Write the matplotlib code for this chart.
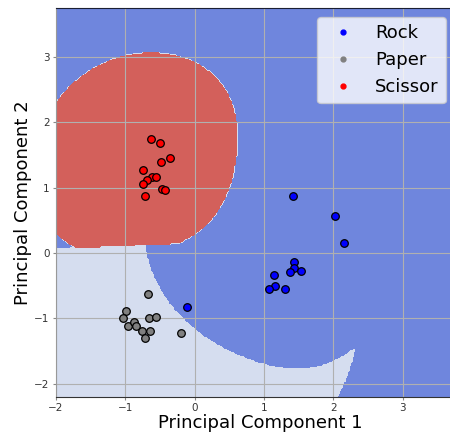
import numpy as np
import matplotlib
matplotlib.use("Agg")
import matplotlib.pyplot as plt
from matplotlib.lines import Line2D

# PCA scores for the three gestures
rock_x = [2.03, 2.16, 1.42, 1.43, 1.43, 1.38, 1.535, 1.15, 1.165, 1.07, 1.30, -0.115]
rock_y = [0.56, 0.15, 0.88, -0.14, -0.235, -0.29, -0.27, -0.34, -0.50, -0.55, -0.55, -0.82]
paper_x = [-0.67, -0.99, -1.03, -0.96, -0.87, -0.85, -0.66, -0.56, -0.76, -0.64, -0.71, -0.19]
paper_y = [-0.63, -0.89, -0.99, -1.11, -1.05, -1.11, -0.99, -0.98, -1.20, -1.20, -1.30, -1.23]
scissor_x = [-0.635, -0.505, -0.36, -0.49, -0.75, -0.615, -0.56, -0.68, -0.75, -0.475, -0.43, -0.71]
scissor_y = [1.75, 1.69, 1.45, 1.40, 1.27, 1.16, 1.16, 1.11, 1.06, 0.98, 0.97, 0.87]

labels = ["Rock", "Paper", "Scissor"]
point_colors = ["blue", "gray", "red"]
region_colors = ["#6f86dd", "#d5ddef", "#d3605b"]


def rbf(A, B, gamma):
    d2 = ((A[:, None, :] - B[None, :, :]) ** 2).sum(-1)
    return np.exp(-gamma * d2)


def fit_binary(X, y, gamma, C=1.0, tol=1e-3, max_iter=200000):
    # SMO with maximal violating pair, like libsvm
    n = len(y)
    K = rbf(X, X, gamma)
    a = np.zeros(n)
    G = -np.ones(n)
    for _ in range(max_iter):
        v = -y * G
        up = ((y > 0) & (a < C)) | ((y < 0) & (a > 0))
        low = ((y > 0) & (a > 0)) | ((y < 0) & (a < C))
        i = np.where(up)[0][np.argmax(v[up])]
        j = np.where(low)[0][np.argmin(v[low])]
        if v[i] - v[j] < tol:
            break
        quad = max(K[i, i] + K[j, j] - 2 * K[i, j], 1e-12)
        t = (v[i] - v[j]) / quad
        t = min(t, C - a[i] if y[i] > 0 else a[i], a[j] if y[j] > 0 else C - a[j])
        a[i] += y[i] * t
        a[j] -= y[j] * t
        G += t * y * (K[:, i] - K[:, j])
    v = -y * G
    free = (a > 1e-8) & (a < C - 1e-8)
    b = v[free].mean() if free.any() else (v[i] + v[j]) / 2
    return a * y, b


X = np.column_stack([rock_x + paper_x + scissor_x, rock_y + paper_y + scissor_y])
cls = np.repeat([0, 1, 2], [len(rock_x), len(paper_x), len(scissor_x)])
gamma = 1.0 / (X.shape[1] * X.var())
C = 30.0

# one-vs-one RBF SVM evaluated on a mesh
xx, yy = np.meshgrid(np.arange(-2.0, 3.92, 0.02), np.arange(-2.2, 3.77, 0.02))
grid = np.column_stack([xx.ravel(), yy.ravel()])
votes = np.zeros((len(grid), 3))
for p in range(3):
    for q in range(p + 1, 3):
        m = (cls == p) | (cls == q)
        yb = np.where(cls[m] == p, 1.0, -1.0)
        coef, b = fit_binary(X[m], yb, gamma, C)
        f = rbf(grid, X[m], gamma) @ coef + b
        votes[:, p] += f > 0
        votes[:, q] += f <= 0
Z = votes.argmax(1).reshape(xx.shape)

fig = plt.figure(figsize=(4.5, 4.34), dpi=100)
ax = fig.add_axes([0.1244, 0.0859, 0.909, 0.8956])
ax.contourf(xx, yy, Z, levels=[-0.5, 0.5, 1.5, 2.5], colors=region_colors)
ax.grid(True, color="#b0b0b0", linewidth=0.8)

for k, (px, py) in enumerate([(rock_x, rock_y), (paper_x, paper_y), (scissor_x, scissor_y)]):
    ax.scatter(px, py, s=30, c=point_colors[k], edgecolors="k", linewidths=0.9, zorder=3)

ax.set_xlim(-2.0, 3.9)
ax.set_ylim(-2.2, 3.75)
ax.set_xticks(range(-2, 4))
ax.set_yticks(range(-2, 4))
ax.tick_params(labelsize=7.5, length=2.5, pad=2, color="#888888", labelcolor="#333333")
ax.spines["left"].set_color("#999999")
ax.spines["top"].set_color("#1a1f33")
ax.spines["bottom"].set_color("#333333")
ax.set_xlabel("Principal Component 1", fontsize=13, labelpad=1)
ax.set_ylabel("Principal Component 2", fontsize=13, labelpad=2)

handles = [Line2D([], [], marker="o", ls="", color=c, markersize=3.5) for c in point_colors]
ax.legend(handles, labels, fontsize=13, loc="upper right",
          bbox_to_anchor=(0.9535, 0.977), borderaxespad=0.0)

fig.savefig("out.png", dpi=100)
